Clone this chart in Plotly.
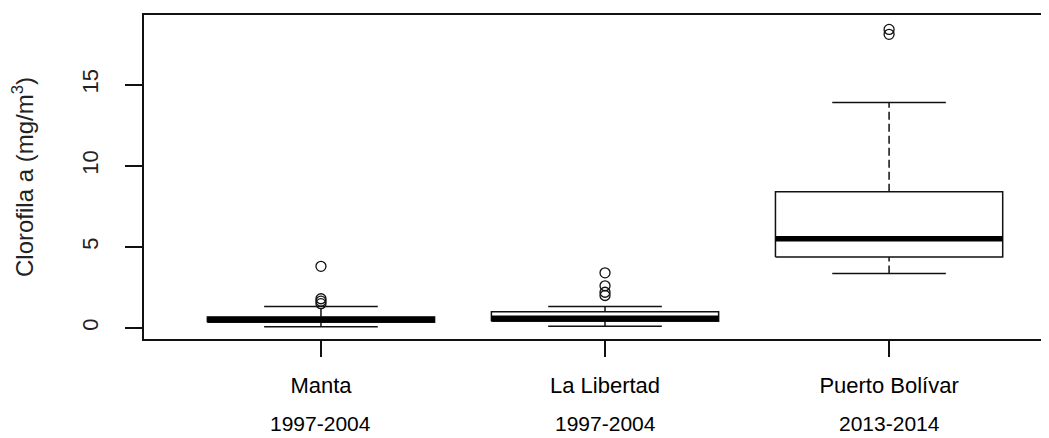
import plotly.graph_objects as go

sites = ["Manta", "La Libertad", "Puerto Bolívar"]
periods = ["1997-2004", "1997-2004", "2013-2014"]

# box statistics (mg/m3)
q1 = [0.35, 0.42, 4.37]
median = [0.52, 0.60, 5.50]
q3 = [0.68, 1.00, 8.40]
whisker_low = [0.08, 0.10, 3.35]
whisker_high = [1.33, 1.33, 13.90]
outliers = [[3.8, 1.8, 1.65, 1.5], [3.4, 2.6, 2.2, 2.0], [18.4, 18.1]]

INK = "#111111"
FONT = "Liberation Sans, Arial, sans-serif"
BOX_W = 0.4
CAP_W = 0.2

fig = go.Figure()
for i, site in enumerate(sites):
    x = i + 1
    # whiskers (dashed, like R's boxplot)
    fig.add_trace(go.Scatter(x=[x, x], y=[q3[i], whisker_high[i]], mode="lines",
        line=dict(color=INK, width=1.5, dash="8px,4px"), hoverinfo="skip"))
    fig.add_trace(go.Scatter(x=[x, x], y=[whisker_low[i], q1[i]], mode="lines",
        line=dict(color=INK, width=1.5, dash="8px,4px"), hoverinfo="skip"))
    # staples
    for v in (whisker_low[i], whisker_high[i]):
        fig.add_trace(go.Scatter(x=[x - CAP_W, x + CAP_W], y=[v, v], mode="lines",
            line=dict(color=INK, width=1.5), hoverinfo="skip"))
    # box
    fig.add_trace(go.Scatter(
        x=[x - BOX_W, x + BOX_W, x + BOX_W, x - BOX_W, x - BOX_W],
        y=[q1[i], q1[i], q3[i], q3[i], q1[i]],
        mode="lines", fill="toself", fillcolor="white",
        line=dict(color=INK, width=1.5), name=site))
    # median
    fig.add_trace(go.Scatter(x=[x - BOX_W, x + BOX_W], y=[median[i], median[i]],
        mode="lines", line=dict(color="black", width=5.5), hoverinfo="skip"))
    # outliers
    fig.add_trace(go.Scatter(x=[x] * len(outliers[i]), y=outliers[i], mode="markers",
        marker=dict(symbol="circle-open", size=10, color=INK, line=dict(width=1.3)),
        hoverinfo="skip"))

for i, p in enumerate(periods):
    fig.add_annotation(x=i + 1, y=0, xref="x", yref="paper", text=p, showarrow=False,
        yanchor="middle", yshift=-84, font=dict(size=21, color="black", family=FONT))

# page body has an 8px margin, so the figure is a bit smaller than the window
fig.update_layout(
    width=1041, height=430,
    paper_bgcolor="white", plot_bgcolor="white",
    showlegend=False,
    font=dict(family=FONT, color="#222222"),
    margin=dict(l=136, r=0, t=7, b=99),
)
fig.update_xaxes(
    range=[0.377, 3.563], tickvals=[1, 2, 3], ticktext=sites,
    showgrid=False, zeroline=False,
    showline=True, mirror=True, linecolor=INK, linewidth=1.5,
    ticks="outside", ticklen=16, tickwidth=1.5, tickcolor=INK,
    ticklabelstandoff=10,
    tickfont=dict(size=22, color="black"),
)
fig.update_yaxes(
    range=[-0.68, 19.29], tickvals=[0, 5, 10, 15],
    showgrid=False, zeroline=False,
    showline=True, mirror=False, linecolor=INK, linewidth=1.5,
    ticks="outside", ticklen=17, tickwidth=1.5, tickcolor=INK,
    tickangle=-90, ticklabelstandoff=18,
    tickfont=dict(size=22, color="#222222"),
    title=dict(text="Clorofila a (mg/m<sup>3</sup>)", font=dict(size=24, color="#222222"),
               standoff=38),
)

fig.write_html("out.html")
